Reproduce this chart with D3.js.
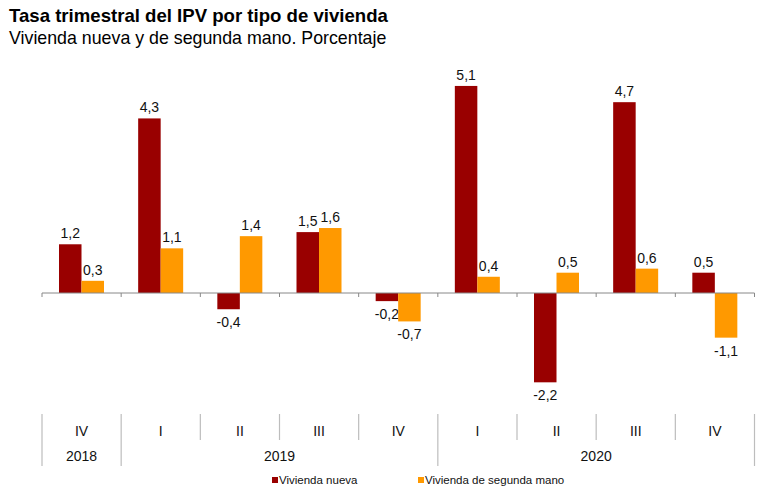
<!DOCTYPE html>
<html>
<head>
<meta charset="utf-8">
<script src="https://cdn.jsdelivr.net/npm/d3@7"></script>
<style>
  body { margin: 0; background: #fff; }
  svg { font-family: "Liberation Sans", Arial, sans-serif; }
</style>
</head>
<body>
<svg id="chart" width="768" height="496"></svg>
<script>
const quarters = ['IV', 'I', 'II', 'III', 'IV', 'I', 'II', 'III', 'IV'];
const years = ['2018', '2019', '2020'];
const quartersPerYear = [1, 4, 4];
const series = ['Vivienda nueva', 'Vivienda de segunda mano'];
const nueva = [1.2, 4.3, -0.4, 1.5, -0.2, 5.1, -2.2, 4.7, 0.5];
const segunda = [0.3, 1.1, 1.4, 1.6, -0.7, 0.4, 0.5, 0.6, -1.1];

const colors = ['#990000', '#ff9900'];
const svg = d3.select('#chart');
const es = d3.formatLocale({ decimal: ',', thousands: '.', grouping: [3], currency: ['', '€'], minus: '-' });
const fmt = es.format('.1f');

const idx = d3.range(quarters.length);
const x = d3.scaleBand().domain(idx).range([42, 754.5]);
const xs = d3.scaleBand().domain([0, 1]).range([17, 62]);
const y = d3.scaleLinear().domain([-3, 6]).range([293 + 3 * 40.6, 293 - 6 * 40.6]);

// title
svg.append('text').attr('x', 9).attr('y', 22)
  .attr('font-size', 18.6).attr('font-weight', 'bold').text('Tasa trimestral del IPV por tipo de vivienda');
svg.append('text').attr('x', 9).attr('y', 44)
  .attr('font-size', 17.8).text('Vivienda nueva y de segunda mano. Porcentaje');

// bars
const vals = [nueva, segunda];
vals.forEach((arr, s) => {
  const g = svg.append('g');
  g.selectAll('rect').data(arr).join('rect')
    .attr('x', (d, i) => x(i) + xs(s))
    .attr('width', xs.bandwidth())
    .attr('y', d => y(Math.max(0, d)))
    .attr('height', d => Math.abs(y(d) - y(0)))
    .attr('fill', colors[s]);
  g.selectAll('text').data(arr).join('text')
    .attr('x', (d, i) => x(i) + xs(s) + xs.bandwidth() / 2)
    .attr('y', d => d >= 0 ? y(d) - 6 : y(d) + 18)
    .attr('text-anchor', 'middle')
    .attr('font-size', 14)
    .attr('fill', '#111')
    .text(d => fmt(d));
});

// zero line with ticks
svg.append('line').attr('x1', x.range()[0]).attr('x2', x.range()[1])
  .attr('y1', y(0)).attr('y2', y(0)).attr('stroke', '#888').attr('stroke-width', 1);
const bounds = idx.map(i => x(i)).concat([x.range()[1]]);
svg.append('g').selectAll('line').data(bounds).join('line')
  .attr('x1', d => d).attr('x2', d => d)
  .attr('y1', y(0)).attr('y2', y(0) + 4)
  .attr('stroke', '#888');

// category axis
const yearStarts = [0];
quartersPerYear.forEach((n, i) => yearStarts.push(yearStarts[i] + n));
const yearBounds = yearStarts.map(i => i < quarters.length ? x(i) : x.range()[1]);
svg.append('g').selectAll('line').data(bounds).join('line')
  .attr('x1', d => d).attr('x2', d => d)
  .attr('y1', 414).attr('y2', d => yearBounds.some(b => Math.abs(b - d) < 0.5) ? 466 : 440)
  .attr('stroke', '#bdbdbd').attr('stroke-width', 1.2);
svg.append('g').selectAll('text').data(quarters).join('text')
  .attr('x', (d, i) => x(i) + x.bandwidth() / 2)
  .attr('y', 436).attr('text-anchor', 'middle').attr('font-size', 14)
  .attr('fill', '#111').text(d => d);
svg.append('g').selectAll('text').data(years).join('text')
  .attr('x', (d, i) => (yearBounds[i] + yearBounds[i + 1]) / 2)
  .attr('y', 461).attr('text-anchor', 'middle').attr('font-size', 14)
  .attr('fill', '#111').text(d => d);

// legend
const legendX = [272, 418];
series.forEach((s, i) => {
  svg.append('rect').attr('x', legendX[i]).attr('y', 477).attr('width', 6).attr('height', 6)
    .attr('fill', colors[i]);
  svg.append('text').attr('x', legendX[i] + 7).attr('y', 484).attr('font-size', 11.5)
    .attr('fill', '#111').text(s);
});
</script>
</body>
</html>
